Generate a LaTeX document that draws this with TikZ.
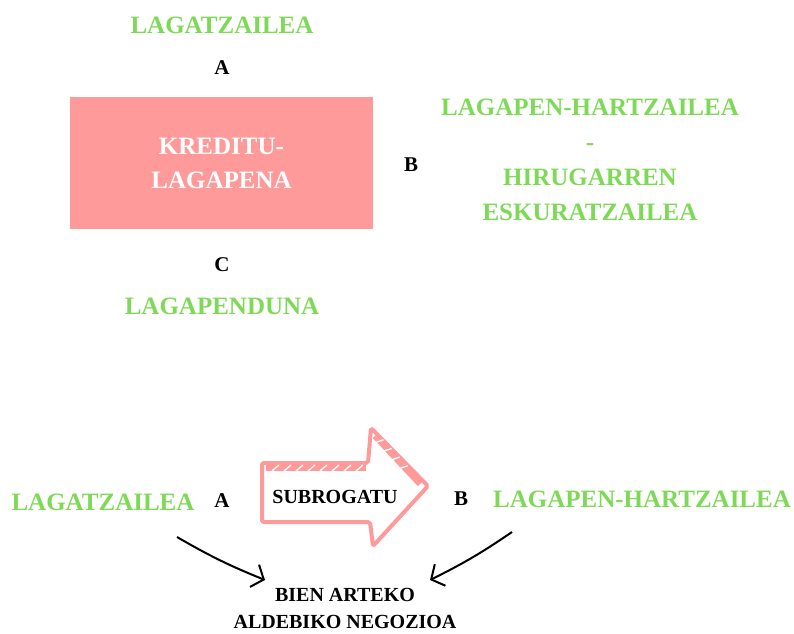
\documentclass[tikz,border=0pt]{standalone}
\usepackage{fontspec}
\setmainfont{Liberation Serif}
\usetikzlibrary{arrows.meta,positioning,calc}
\definecolor{lagpink}{HTML}{FF9A9A}
\definecolor{laggreen}{HTML}{7ED957}

\begin{document}
\begin{tikzpicture}[x=1pt, y=-1pt,
  role/.style={text=laggreen, font=\fontsize{25}{35}\selectfont\bfseries, align=center},
  tag/.style={font=\fontsize{21}{22}\selectfont\bfseries},
  deal/.style={font=\fontsize{20}{27}\selectfont\bfseries, align=center},
  sketch/.style={draw=lagpink, line width=4pt, line join=round, rounded corners=2pt},
  >={Straight Barb[length=10pt, width=24pt]}]
  \useasboundingbox (0,0) rectangle (794,633);

  % upper scheme: the credit assignment and its three parties
  \node[role] (lagA) at (222,25) {LAGATZAILEA};
  \node[tag] (a1) at (222,68) {A};
  \node[fill=lagpink, minimum width=303pt, minimum height=132pt, text=white,
        font=\fontsize{25}{34}\selectfont\bfseries, align=center] (kred) at (221.5,163) {KREDITU-\\LAGAPENA};
  \node[tag] (b1) at (411,165) {B};
  \node[role] (lagH) at (590,160) {LAGAPEN-HARTZAILEA\\-\\HIRUGARREN\\ESKURATZAILEA};
  \node[tag] (c1) at (222,265) {C};
  \node[role] (lagD) at (222,306) {LAGAPENDUNA};

  % lower scheme: subrogation
  \node[role] (lagA2) at (103,502) {LAGATZAILEA};
  \node[tag] (a2) at (222,501) {A};
  \node[tag] (b2) at (461,499) {B};
  \node[role] (lagH2) at (642,499) {LAGAPEN-HARTZAILEA};

  % hand drawn arrow
  \draw[sketch] (262,463) -- (368,463) -- (371,428) -- (428,486) -- (373,546)
    -- (370,522) -- (262,522) -- cycle;
  \draw[lagpink, line width=6pt] (266,468) -- (366,468);
  \draw[lagpink, line width=6pt] (375,436) -- (420,484);
  \foreach \x in {272,284,296,308,320,332,344,356}
    \draw[white, line width=1.3pt] (\x,471) -- (\x+7,465);
  \foreach \t in {0.1,0.28,0.46,0.64}
    \draw[white, line width=1.3pt] ($(375,436)!\t!(420,484)$) ++(-5,2) -- ++(9,-3);
  \node[deal] (subro) at (335,497) {SUBROGATU};

  \node[deal] (negoz) at (345,608) {BIEN ARTEKO\\ALDEBIKO NEGOZIOA};
  \coordinate (fromA) at (177,537);
  \coordinate (toA) at (265,580);
  \coordinate (fromB) at (512,532);
  \coordinate (toB) at (430,580);
  \draw[->, line width=2pt] (fromA) to[bend right=4] (toA);
  \draw[->, line width=2pt] (fromB) to[bend left=4] (toB);
\end{tikzpicture}
\end{document}
